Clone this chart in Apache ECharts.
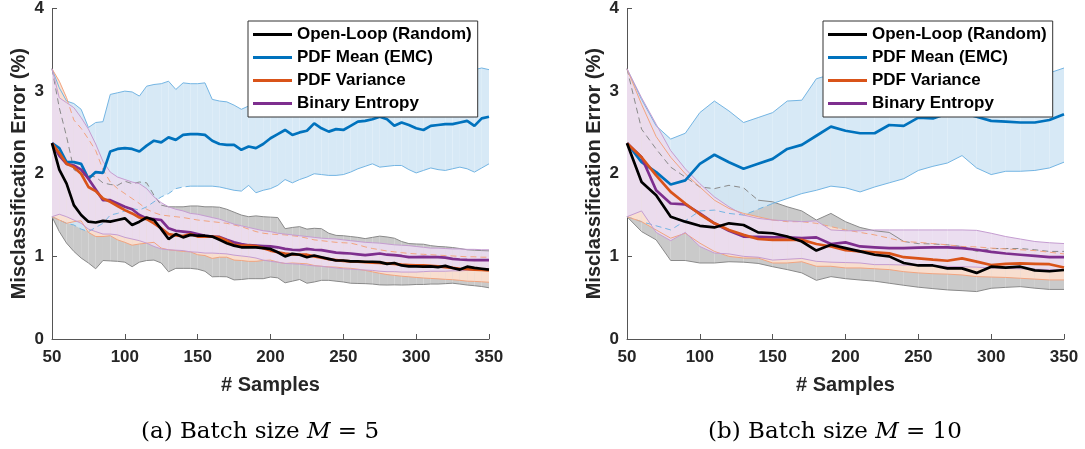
<!DOCTYPE html>
<html>
<head>
<meta charset="utf-8">
<script src="https://cdn.jsdelivr.net/npm/echarts@6/dist/echarts.min.js"></script>
<style>
  html, body { margin: 0; padding: 0; background: #fff; }
  #chart { width: 1085px; height: 449px; }
</style>
</head>
<body>
<div id="chart"></div>
<script>
// ---- sample grids (number of labelled samples) ----
const samplesA = Array.from({ length: 61 }, (_, i) => 50 + 5 * i);   // batch size 5
const samplesB = Array.from({ length: 31 }, (_, i) => 50 + 10 * i);  // batch size 10

// ---- axis ticks / labels ----
const xTicks = [50, 100, 150, 200, 250, 300, 350];
const yTicks = [0, 1, 2, 3, 4];
const seriesNames = ['Open-Loop (Random)', 'PDF Mean (EMC)', 'PDF Variance', 'Binary Entropy'];
const panelTags = ['(a)', '(b)'];
const batchSizes = [5, 10];

// ---- batch size M = 5 : mean, lower, upper (misclassification error, %) ----
const loopA   = [2.37,2.05,1.88,1.62,1.50,1.42,1.41,1.43,1.42,1.44,1.46,1.38,1.42,1.47,1.44,1.33,1.21,1.27,1.23,1.26,1.25,1.25,1.24,1.20,1.16,1.13,1.11,1.11,1.11,1.10,1.09,1.05,1.00,1.03,1.02,0.99,1.01,0.99,0.97,0.95,0.95,0.94,0.94,0.935,0.935,0.93,0.91,0.92,0.89,0.88,0.88,0.875,0.88,0.87,0.885,0.86,0.84,0.875,0.86,0.85,0.84];
const loopLoA = [1.48,1.30,1.16,1.06,0.98,0.92,0.85,0.95,0.945,0.94,0.93,0.875,0.93,0.95,0.955,0.92,0.813,0.855,0.855,0.855,0.845,0.82,0.753,0.755,0.753,0.715,0.72,0.73,0.73,0.73,0.75,0.74,0.68,0.70,0.72,0.675,0.69,0.71,0.71,0.70,0.69,0.675,0.672,0.67,0.665,0.655,0.653,0.655,0.653,0.655,0.66,0.66,0.665,0.665,0.67,0.675,0.665,0.653,0.645,0.635,0.62];
const loopHiA = [3.27,2.80,2.45,2.05,1.99,1.98,1.96,1.89,1.87,1.86,1.91,1.88,1.90,1.89,1.74,1.62,1.60,1.60,1.60,1.61,1.61,1.60,1.60,1.595,1.57,1.535,1.50,1.48,1.49,1.48,1.475,1.47,1.335,1.35,1.36,1.33,1.34,1.335,1.28,1.254,1.25,1.24,1.23,1.215,1.23,1.245,1.235,1.22,1.18,1.155,1.15,1.147,1.13,1.12,1.115,1.107,1.095,1.08,1.075,1.07,1.067];

const meanA   = [2.37,2.31,2.14,2.14,2.12,1.94,2.02,2.01,2.27,2.30,2.31,2.30,2.27,2.34,2.40,2.38,2.44,2.41,2.47,2.48,2.48,2.47,2.40,2.36,2.35,2.35,2.29,2.33,2.31,2.36,2.43,2.48,2.53,2.47,2.50,2.52,2.61,2.55,2.51,2.54,2.53,2.58,2.63,2.64,2.66,2.69,2.66,2.58,2.62,2.59,2.55,2.53,2.58,2.59,2.60,2.60,2.62,2.64,2.58,2.67,2.69];
const meanLoA = [1.48,1.44,1.40,1.38,1.33,1.30,1.35,1.40,1.50,1.52,1.55,1.58,1.56,1.60,1.66,1.72,1.76,1.82,1.84,1.85,1.85,1.85,1.85,1.84,1.82,1.80,1.79,1.86,1.77,1.80,1.82,1.86,1.93,1.89,1.93,1.96,2.00,1.99,1.98,1.98,1.99,2.02,2.06,2.09,2.12,2.08,2.09,2.10,2.10,2.05,2.01,2.04,2.07,2.05,2.04,2.06,2.08,2.06,2.02,2.07,2.12];
const meanHiA = [3.27,3.04,2.88,2.85,2.78,2.56,2.62,2.63,2.96,2.98,3.00,2.99,2.94,3.06,3.08,3.09,3.12,3.02,3.10,3.09,3.09,3.10,2.90,2.88,2.87,2.83,2.78,2.82,2.80,2.90,3.04,3.10,3.13,3.05,3.07,3.08,3.22,3.11,3.04,3.10,3.07,3.14,3.20,3.19,3.20,3.30,3.23,3.06,3.14,3.13,3.09,3.02,3.09,3.13,3.16,3.14,3.16,3.22,3.26,3.28,3.26];

const varA    = [2.37,2.25,2.12,2.08,2.00,1.84,1.79,1.70,1.66,1.61,1.56,1.52,1.47,1.45,1.40,1.34,1.27,1.255,1.245,1.27,1.24,1.24,1.24,1.23,1.19,1.14,1.13,1.13,1.125,1.10,1.07,1.05,1.035,1.025,1.02,1.02,1.00,0.985,0.965,0.955,0.945,0.94,0.935,0.93,0.925,0.92,0.915,0.91,0.90,0.895,0.89,0.89,0.885,0.88,0.87,0.86,0.85,0.845,0.84,0.835,0.83];
const varLoA  = [1.48,1.44,1.40,1.42,1.43,1.29,1.24,1.24,1.25,1.20,1.17,1.135,1.15,1.16,1.17,1.10,1.08,1.07,1.06,1.055,1.02,1.01,0.975,0.99,0.99,0.955,0.95,0.94,0.94,0.95,0.955,0.93,0.914,0.92,0.915,0.91,0.89,0.88,0.873,0.87,0.86,0.855,0.845,0.83,0.813,0.795,0.78,0.77,0.76,0.753,0.745,0.738,0.733,0.728,0.722,0.718,0.71,0.70,0.697,0.692,0.687];
const varHiA  = [3.27,3.12,2.92,2.65,2.55,2.42,2.28,2.05,1.90,1.82,1.76,1.70,1.64,1.57,1.53,1.50,1.49,1.48,1.47,1.455,1.44,1.43,1.42,1.41,1.40,1.38,1.36,1.33,1.30,1.28,1.27,1.265,1.26,1.25,1.24,1.22,1.20,1.19,1.18,1.17,1.165,1.16,1.14,1.115,1.095,1.08,1.065,1.055,1.045,1.035,1.03,1.025,1.02,1.015,1.01,1.005,1.0,0.995,0.995,0.99,0.99];

const entA    = [2.37,2.22,2.12,2.10,2.05,1.94,1.81,1.68,1.68,1.64,1.60,1.57,1.50,1.46,1.45,1.44,1.34,1.31,1.30,1.29,1.27,1.25,1.24,1.235,1.20,1.17,1.15,1.135,1.13,1.125,1.12,1.11,1.09,1.08,1.075,1.09,1.08,1.075,1.06,1.045,1.04,1.035,1.025,1.015,1.025,1.035,1.02,1.015,1.005,0.99,0.99,0.995,0.99,0.99,0.985,0.97,0.962,0.958,0.955,0.955,0.955];
const entLoA  = [1.48,1.51,1.48,1.44,1.40,1.33,1.30,1.27,1.27,1.26,1.23,1.21,1.19,1.16,1.12,1.09,1.08,1.075,1.07,1.055,1.05,1.04,1.04,1.035,1.03,1.015,1.005,0.995,0.98,0.955,0.94,0.93,0.915,0.91,0.905,0.895,0.885,0.88,0.87,0.86,0.85,0.845,0.84,0.835,0.83,0.82,0.815,0.815,0.81,0.81,0.81,0.815,0.82,0.82,0.82,0.825,0.825,0.83,0.83,0.83,0.83];
const entHiA  = [3.27,2.92,2.86,2.80,2.68,2.54,2.36,2.15,2.02,1.96,1.93,1.90,1.88,1.82,1.72,1.65,1.60,1.57,1.55,1.52,1.51,1.49,1.47,1.45,1.42,1.39,1.37,1.35,1.33,1.31,1.30,1.28,1.27,1.26,1.25,1.24,1.23,1.22,1.215,1.21,1.20,1.19,1.18,1.17,1.165,1.16,1.15,1.14,1.135,1.13,1.12,1.11,1.10,1.10,1.095,1.09,1.09,1.085,1.085,1.08,1.08];

// ---- batch size M = 10 ----
const loopB   = [2.37,1.90,1.74,1.48,1.42,1.37,1.35,1.40,1.38,1.29,1.28,1.24,1.18,1.07,1.14,1.10,1.06,1.02,1.00,0.92,0.89,0.89,0.855,0.855,0.80,0.875,0.863,0.875,0.83,0.82,0.835];
const loopLoB = [1.48,1.30,1.20,0.95,0.95,0.92,0.92,0.935,0.93,0.915,0.875,0.84,0.80,0.71,0.755,0.73,0.714,0.70,0.675,0.65,0.627,0.61,0.594,0.585,0.574,0.614,0.625,0.634,0.615,0.60,0.60];
const loopHiB = [3.27,2.54,2.30,2.08,1.96,1.84,1.82,1.86,1.83,1.68,1.66,1.60,1.55,1.44,1.52,1.42,1.35,1.31,1.29,1.18,1.155,1.15,1.14,1.12,1.06,1.095,1.095,1.095,1.08,1.06,1.06];

const meanB   = [2.37,2.14,2.02,1.87,1.92,2.12,2.23,2.14,2.06,2.12,2.18,2.30,2.35,2.46,2.57,2.52,2.49,2.49,2.59,2.58,2.68,2.67,2.73,2.74,2.69,2.64,2.63,2.62,2.62,2.65,2.72];
const meanLoB = [1.48,1.42,1.37,1.32,1.43,1.55,1.56,1.52,1.50,1.57,1.64,1.70,1.76,1.80,1.85,1.83,1.78,1.84,1.89,1.94,2.04,2.09,2.13,2.22,2.07,1.99,2.03,2.03,2.04,2.07,2.14];
const meanHiB = [3.27,2.90,2.58,2.42,2.49,2.74,2.88,2.76,2.62,2.68,2.74,2.88,2.89,3.15,3.20,3.21,3.20,3.14,3.29,3.22,3.32,3.25,3.33,3.26,3.31,3.29,3.23,3.21,3.20,3.22,3.28];

const varB    = [2.37,2.20,1.98,1.78,1.64,1.51,1.40,1.32,1.26,1.21,1.20,1.20,1.20,1.15,1.12,1.076,1.06,1.05,1.036,0.99,0.976,0.96,0.947,0.976,0.936,0.895,0.91,0.915,0.91,0.905,0.865];
const varLoB  = [1.48,1.42,1.32,1.22,1.28,1.16,1.06,1.00,0.98,0.98,0.92,0.92,0.935,0.88,0.88,0.86,0.86,0.85,0.84,0.815,0.80,0.79,0.785,0.775,0.755,0.75,0.745,0.735,0.725,0.715,0.715];
const varHiB  = [3.27,2.84,2.45,2.20,2.00,1.84,1.68,1.58,1.52,1.48,1.44,1.42,1.42,1.40,1.36,1.32,1.29,1.26,1.22,1.18,1.17,1.155,1.14,1.12,1.115,1.10,1.09,1.08,1.07,1.05,1.03];

const entB    = [2.37,2.20,1.80,1.64,1.63,1.52,1.40,1.31,1.24,1.235,1.23,1.23,1.22,1.23,1.15,1.17,1.12,1.11,1.10,1.10,1.105,1.11,1.11,1.10,1.08,1.055,1.035,1.02,1.005,0.99,0.99];
const entLoB  = [1.48,1.55,1.29,1.19,1.29,1.12,1.04,1.03,1.00,0.99,0.955,0.965,0.975,0.94,0.93,0.925,0.92,0.90,0.90,0.895,0.89,0.885,0.88,0.875,0.87,0.86,0.855,0.85,0.845,0.84,0.835];
const entHiB  = [3.27,2.92,2.60,2.28,2.06,1.88,1.72,1.60,1.50,1.46,1.44,1.43,1.42,1.43,1.32,1.31,1.31,1.32,1.32,1.32,1.32,1.32,1.32,1.32,1.315,1.28,1.24,1.21,1.18,1.165,1.155];

// ---- styling ----
const SANS = '"Liberation Sans", Arial, Helvetica, sans-serif';
const SERIF = '"DejaVu Serif", "Liberation Serif", serif';
const AXIS_COLOR = '#555555';
const TEXT_COLOR = '#262626';

// later bands are painted over earlier ones with nearly opaque pale fills
const STYLE = {
  loop:     { line: '#000000', fill: 'rgba(198,198,198,0.92)', edge: '#8a8a8a' },
  mean:     { line: '#0072BD', fill: 'rgba(212,231,245,0.93)', edge: '#74b5e3' },
  variance: { line: '#D95319', fill: 'rgba(252,223,207,0.92)', edge: '#f2a47f' },
  entropy:  { line: '#7E2F8E', fill: 'rgba(234,220,239,0.93)', edge: '#c59dd1' }
};

// where a band edge runs underneath the later fills it reads as dashed
const panels = [
  {
    xs: samplesA, left: 52,
    loop: [loopA, loopLoA, loopHiA], mean: [meanA, meanLoA, meanHiA],
    variance: [varA, varLoA, varHiA], entropy: [entA, entLoA, entHiA],
    dashed: { loopHi: [[50, 125]], meanLo: [[52, 145]], varianceHi: [[62, 350]] }
  },
  {
    xs: samplesB, left: 627,
    loop: [loopB, loopLoB, loopHiB], mean: [meanB, meanLoB, meanHiB],
    variance: [varB, varLoB, varHiB], entropy: [entB, entLoB, entHiB],
    dashed: { loopHi: [[50, 140], [240, 350]], meanLo: [[50, 150]], varianceHi: [[150, 350]] }
  }
];

function inRanges(x, ranges) {
  return (ranges || []).some(r => x >= r[0] && x <= r[1]);
}

// shaded band between lower and upper curves, drawn as one quad per interval
function bandSeries(k, xs, lo, hi, fill) {
  const data = [];
  for (let i = 0; i < xs.length - 1; i++) {
    data.push([xs[i], lo[i], hi[i], xs[i + 1], lo[i + 1], hi[i + 1]]);
  }
  return {
    type: 'custom', xAxisIndex: k, yAxisIndex: k, silent: true, z: 1,
    encode: { x: [0, 3], y: [1, 2, 4, 5] },
    data,
    renderItem: (params, api) => {
      const a = api.coord([api.value(0), api.value(1)]);
      const b = api.coord([api.value(0), api.value(2)]);
      const c = api.coord([api.value(3), api.value(5)]);
      const d = api.coord([api.value(3), api.value(4)]);
      return { type: 'polygon', shape: { points: [a, b, c, d] }, style: { fill: fill } };
    }
  };
}

// thin band boundary, split into solid and dashed stretches
function edgeSeries(k, xs, ys, color, ranges) {
  const segDashed = [];
  for (let i = 0; i < xs.length - 1; i++) segDashed.push(inRanges((xs[i] + xs[i + 1]) / 2, ranges));
  const solid = [], dashed = [];
  xs.forEach((x, i) => {
    const prev = i > 0 ? segDashed[i - 1] : null;
    const next = i < xs.length - 1 ? segDashed[i] : null;
    solid.push([x, (prev === false || next === false) ? ys[i] : null]);
    dashed.push([x, (prev === true || next === true) ? ys[i] : null]);
  });
  const base = {
    type: 'line', xAxisIndex: k, yAxisIndex: k, silent: true, z: 2,
    symbol: 'none', showSymbol: false, connectNulls: false
  };
  return [
    Object.assign({}, base, { data: solid, lineStyle: { color, width: 1 } }),
    Object.assign({}, base, { data: dashed, lineStyle: { color, width: 1, type: [6, 4] } })
  ];
}

function meanSeries(k, xs, ys, name, color, z) {
  return {
    type: 'line', name, xAxisIndex: k, yAxisIndex: k, z,
    color, symbol: 'none', showSymbol: false, silent: true,
    data: xs.map((x, i) => [x, ys[i]]),
    lineStyle: { color, width: 2.7 }
  };
}

const series = [];
panels.forEach((p, k) => {
  const order = ['loop', 'mean', 'variance', 'entropy'];
  order.forEach(key => series.push(bandSeries(k, p.xs, p[key][1], p[key][2], STYLE[key].fill)));
  order.forEach(key => {
    series.push(...edgeSeries(k, p.xs, p[key][2], STYLE[key].edge, p.dashed[key + 'Hi']));
    series.push(...edgeSeries(k, p.xs, p[key][1], STYLE[key].edge, p.dashed[key + 'Lo']));
  });
  series.push(meanSeries(k, p.xs, p.mean[0], seriesNames[1], STYLE.mean.line, 3));
  series.push(meanSeries(k, p.xs, p.entropy[0], seriesNames[3], STYLE.entropy.line, 3));
  series.push(meanSeries(k, p.xs, p.variance[0], seriesNames[2], STYLE.variance.line, 3));
  series.push(meanSeries(k, p.xs, p.loop[0], seriesNames[0], STYLE.loop.line, 3));
});

const boldLabel = (size) => ({ fontFamily: SANS, fontWeight: 'bold', fontSize: size, color: TEXT_COLOR });

const option = {
  animation: false,
  backgroundColor: '#ffffff',
  grid: panels.map(p => ({ left: p.left, top: 7, width: 437, height: 332, containLabel: false })),
  xAxis: panels.map((p, k) => ({
    type: 'value', gridIndex: k,
    min: xTicks[0], max: xTicks[xTicks.length - 1], interval: xTicks[1] - xTicks[0],
    name: '# Samples', nameLocation: 'middle', nameGap: 36,
    nameTextStyle: boldLabel(20),
    axisLine: { show: true, onZero: false, lineStyle: { color: AXIS_COLOR, width: 1 } },
    axisTick: { show: true, inside: true, length: 5, lineStyle: { color: AXIS_COLOR } },
    axisLabel: Object.assign(boldLabel(17), { margin: 10 }),
    splitLine: { show: false }
  })),
  yAxis: panels.map((p, k) => ({
    type: 'value', gridIndex: k,
    min: yTicks[0], max: yTicks[yTicks.length - 1], interval: yTicks[1] - yTicks[0],
    name: 'Misclassification Error (%)', nameLocation: 'middle', nameGap: 23,
    nameTextStyle: boldLabel(20),
    axisLine: { show: true, onZero: false, lineStyle: { color: AXIS_COLOR, width: 1 } },
    axisTick: { show: true, inside: true, length: 5, lineStyle: { color: AXIS_COLOR } },
    axisLabel: Object.assign(boldLabel(17), { margin: 8 }),
    splitLine: { show: false }
  })),
  legend: panels.map(p => ({
    left: p.left + 196, top: 21, orient: 'vertical', z: 20,
    data: seriesNames, icon: 'rect', itemWidth: 39, itemHeight: 3, itemGap: 6,
    padding: [5, 6, 5, 5], backgroundColor: '#ffffff',
    borderColor: '#333333', borderWidth: 1, borderRadius: 0,
    selectedMode: false,
    textStyle: { fontFamily: SANS, fontWeight: 'bold', fontSize: 17, lineHeight: 17, color: '#000000' }
  })),
  graphic: panels.map((p, k) => ({
    type: 'text', x: p.left + 208, y: 432, silent: true,
    style: {
      text: '{t|' + panelTags[k] + ' Batch size }{m|M}{t| = ' + batchSizes[k] + '}',
      align: 'center', verticalAlign: 'middle',
      rich: {
        t: { fontFamily: SERIF, fontSize: 23, fill: '#000' },
        m: { fontFamily: SERIF, fontSize: 23, fontStyle: 'italic', fill: '#000' }
      }
    }
  })),
  series
};

const chart = echarts.init(document.getElementById('chart'), null, { renderer: 'canvas' });
chart.setOption(option);
</script>
</body>
</html>
